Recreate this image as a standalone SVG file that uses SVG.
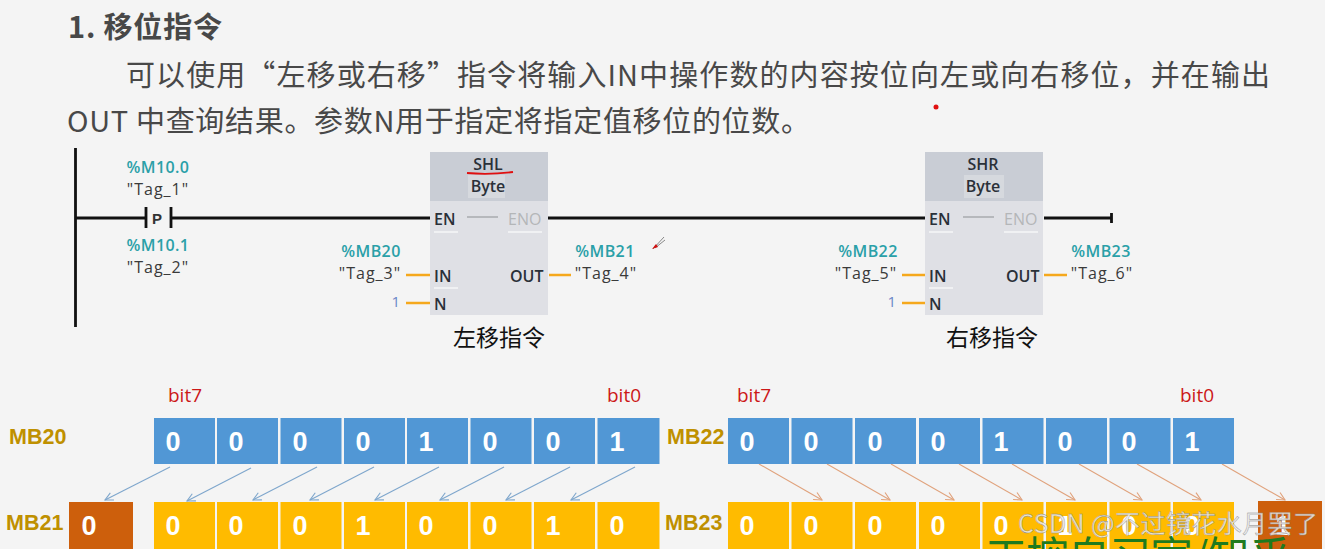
<svg xmlns="http://www.w3.org/2000/svg" width="1325" height="549" viewBox="0 0 1325 549">
<style>
text{font-family:"Liberation Sans","Noto Sans CJK SC",sans-serif}
.h{font-family:"Noto Sans CJK SC",sans-serif;font-size:29px;fill:#484848}
.ser{font-family:"Noto Sans CJK SC",serif;font-size:23px;fill:#111;text-anchor:middle}
.g{font-family:"Open Sans","Noto Sans",sans-serif;font-size:16px;letter-spacing:1px;fill:#3a3a3a;text-anchor:middle}
.t{font-family:"Open Sans","Noto Sans",sans-serif;font-size:16px;letter-spacing:.4px;font-weight:600;fill:#2aa0a8;text-anchor:middle}
.p{font-family:"Open Sans","Noto Sans",sans-serif;font-size:16px;font-weight:600;fill:#2a3038}
.d{font-family:"Open Sans","Noto Sans",sans-serif;font-size:16px;fill:#b4b6b8}
.hd{font-family:"Open Sans","Noto Sans",sans-serif;font-size:16px;font-weight:600;fill:#2a3038;text-anchor:middle}
.num{font-family:"Open Sans","Noto Sans",sans-serif;font-size:15px;fill:#6a86c8;text-anchor:end}
.w{stroke:#111;stroke-width:2.8;fill:none}
.o{stroke:#f5a81c;stroke-width:2.4;fill:none}
.u{stroke:#f6f6f8;stroke-width:1.3;fill:none}
.blk{fill:#dfe0e5}.top{fill:#c9cdd5}
.b{fill:#5197d5}.y{fill:#ffbb00}.r{fill:#cd5f0c}
.v{font-size:27px;font-weight:700;fill:#fff;text-anchor:middle}
.m{font-size:21.500px;font-weight:700;fill:#bf9000}
.bit{font-family:"Open Sans","Noto Sans",sans-serif;font-size:19px;fill:#cc1818}
.ab{stroke:#7ea6cc;stroke-width:1.100;fill:none;marker-end:url(#ba)}
.ar{stroke:#e0a27c;stroke-width:1.100;fill:none;marker-end:url(#ra)}
</style>
<defs>
<marker id="ba" markerWidth="12" markerHeight="12" refX="9" refY="5" orient="auto" markerUnits="userSpaceOnUse"><path d="M1 1L9 5L1 9" fill="none" stroke="#7ea6cc" stroke-width="1.100"/></marker>
<marker id="ra" markerWidth="12" markerHeight="12" refX="9" refY="5" orient="auto" markerUnits="userSpaceOnUse"><path d="M1 1L9 5L1 9" fill="none" stroke="#e0a27c" stroke-width="1.100"/></marker>
</defs>
<rect width="1325" height="549" fill="#f4f4f4"/>
<text class="h" x="68" y="38" font-weight="700" textLength="154">1. 移位指令</text>
<text class="h" x="126" y="86" textLength="1144">可以使用“左移或右移”指令将输入IN中操作数的内容按位向左或向右移位，并在输出</text>
<text class="h" x="67" y="132" textLength="743">OUT 中查询结果。参数N用于指定将指定值移位的位数。</text>
<circle cx="936" cy="107" r="2.500" fill="#e01010"/>
<g id="connectors">
<path class="w" d="M75.500 148V327M76 218H146M171 218H430M548 218H925M1044 218H1111"/>
<path class="w" d="M146 207V228M171 207V228M1111.500 213V223" stroke-width="2.400"/>
<path class="o" d="M406 275H430M406 303H430M549 275H571M902 275H925M902 303H925M1044 275H1067"/>
<path class="ab" d="M170 467L105 500"/><path class="ab" d="M251 468L187 501"/><path class="ab" d="M317 467L253 500"/><path class="ab" d="M374 467L310 500"/><path class="ab" d="M439 467L375 500"/><path class="ab" d="M504 467L440 500"/><path class="ab" d="M570 467L506 500"/><path class="ab" d="M635 467L571 500"/>
<path class="ar" d="M759 464L822 500"/><path class="ar" d="M827 464L890 500"/><path class="ar" d="M891 464L954 500"/><path class="ar" d="M959 464L1022 500"/><path class="ar" d="M1012 464L1075 500"/><path class="ar" d="M1079 464L1142 500"/><path class="ar" d="M1137 464L1201 500"/><path class="ar" d="M1222 464L1285 500"/>
</g>
<g id="contact">
<text x="157" y="224" font-family="Open Sans" font-size="15" font-weight="700" fill="#333" text-anchor="middle">P</text>
<text class="t" x="158" y="173">%M10.0</text><text class="g" x="158" y="195">"Tag_1"</text>
<text class="t" x="158" y="251">%M10.1</text><text class="g" x="158" y="273">"Tag_2"</text>
</g>
<g id="shl">
<rect class="blk" x="430" y="152" width="118" height="163"/><rect class="top" x="430" y="152" width="118" height="49"/>
<rect x="468" y="175" width="37" height="23" fill="#d6d9de"/>
<text class="hd" x="488" y="170">SHL</text>
<text class="hd" x="488" y="192">Byte</text>
<path d="M467 173Q489 175 513 172" stroke="#e01010" stroke-width="1.800" fill="none"/>
<text class="p" x="434" y="225">EN</text><text class="d" x="508" y="225">ENO</text><path d="M467 217H498" stroke="#a0a2a6" stroke-width="1.300"/>
<path class="u" d="M434 232H458M508 232H542M434 288H458"/>
<text class="p" x="434" y="282">IN</text><text class="p" x="434" y="310">N</text><text class="p" x="510" y="282">OUT</text>
<text class="t" x="371" y="257">%MB20</text><text class="g" x="370" y="279">"Tag_3"</text><text class="num" x="400" y="307">1</text>
<text class="t" x="605" y="257">%MB21</text><text class="g" x="606" y="279">"Tag_4"</text>
<path d="M653 249L664 237M655 248L665 240" stroke="#888" stroke-width="1" fill="none"/><path d="M652 249L656 244L658 247Z" fill="#d01010"/>
<text class="ser" x="499" y="346">左移指令</text>
</g>
<g id="shr">
<rect class="blk" x="925" y="152" width="118" height="163"/><rect class="top" x="925" y="152" width="118" height="49"/>
<rect x="964" y="175" width="40" height="23" fill="#d6d9de"/>
<text class="hd" x="983" y="170">SHR</text>
<text class="hd" x="983" y="192">Byte</text>
<text class="p" x="929" y="225">EN</text><text class="d" x="1004" y="225">ENO</text><path d="M963 217H994" stroke="#a0a2a6" stroke-width="1.300"/>
<path class="u" d="M929 232H953M1004 232H1038M929 288H953"/>
<text class="p" x="929" y="282">IN</text><text class="p" x="929" y="310">N</text><text class="p" x="1006" y="282">OUT</text>
<text class="t" x="868" y="257">%MB22</text><text class="g" x="866" y="279">"Tag_5"</text><text class="num" x="896" y="307">1</text>
<text class="t" x="1101" y="257">%MB23</text><text class="g" x="1102" y="279">"Tag_6"</text>
<text class="ser" x="992" y="346">右移指令</text>
</g>
<g id="mb20">
<text class="m" x="9" y="444">MB20</text>
<text class="bit" x="168" y="402">bit7</text><text class="bit" x="607" y="402">bit0</text>
<g class="b"><rect x="154" y="418" width="61" height="46"/><rect x="217" y="418" width="61" height="46"/><rect x="280.500" y="418" width="61" height="46"/><rect x="344" y="418" width="61" height="46"/><rect x="407" y="418" width="61" height="46"/><rect x="470.500" y="418" width="61" height="46"/><rect x="534" y="418" width="61" height="46"/><rect x="597.500" y="418" width="62" height="46"/></g>
<g class="v"><text x="173" y="451">0</text><text x="236" y="451">0</text><text x="300" y="451">0</text><text x="363" y="451">0</text><text x="426" y="451">1</text><text x="490" y="451">0</text><text x="553" y="451">0</text><text x="617" y="451">1</text></g>
</g>
<g id="mb21">
<text class="m" x="6" y="530">MB21</text>
<rect class="r" x="69" y="502" width="64" height="47"/><text class="v" x="89" y="535">0</text>
<g class="y"><rect x="154" y="502" width="61" height="47"/><rect x="217" y="502" width="61" height="47"/><rect x="280.500" y="502" width="61" height="47"/><rect x="344" y="502" width="61" height="47"/><rect x="407" y="502" width="61" height="47"/><rect x="470.500" y="502" width="61" height="47"/><rect x="534" y="502" width="61" height="47"/><rect x="597.500" y="502" width="62" height="47"/></g>
<g class="v"><text x="173" y="535">0</text><text x="236" y="535">0</text><text x="300" y="535">0</text><text x="363" y="535">1</text><text x="426" y="535">0</text><text x="490" y="535">0</text><text x="553" y="535">1</text><text x="617" y="535">0</text></g>
</g>
<g id="mb22">
<text class="m" x="667" y="444">MB22</text>
<text class="bit" x="737" y="402">bit7</text><text class="bit" x="1180" y="402">bit0</text>
<g class="b"><rect x="728" y="418" width="61" height="46"/><rect x="791.500" y="418" width="61" height="46"/><rect x="855" y="418" width="61" height="46"/><rect x="919" y="418" width="61" height="46"/><rect x="982.500" y="418" width="61" height="46"/><rect x="1046" y="418" width="61" height="46"/><rect x="1109.500" y="418" width="61" height="46"/><rect x="1173" y="418" width="61" height="46"/></g>
<g class="v"><text x="747" y="451">0</text><text x="811" y="451">0</text><text x="875" y="451">0</text><text x="938" y="451">0</text><text x="1001" y="451">1</text><text x="1065" y="451">0</text><text x="1129" y="451">0</text><text x="1192" y="451">1</text></g>
</g>
<g id="mb23">
<text class="m" x="665" y="530">MB23</text>
<g class="y"><rect x="728" y="502" width="61" height="47"/><rect x="791.500" y="502" width="61" height="47"/><rect x="855" y="502" width="61" height="47"/><rect x="919" y="502" width="61" height="47"/><rect x="982.500" y="502" width="61" height="47"/><rect x="1046" y="502" width="61" height="47"/><rect x="1109.500" y="502" width="61" height="47"/><rect x="1173" y="502" width="61" height="47"/></g>
<rect class="r" x="1258" y="501" width="64" height="48"/>
<g class="v"><text x="747" y="535">0</text><text x="811" y="535">0</text><text x="875" y="535">0</text><text x="938" y="535">0</text><text x="1001" y="535">0</text><text x="1065" y="535">1</text><text x="1129" y="535">0</text><text x="1192" y="535">0</text><text x="1283" y="535">1</text></g>
</g>
<text x="985" y="572" font-size="42" fill="#1f7a1f" textLength="306" style="font-family:'Noto Sans CJK SC',serif">工控自习室/知乎</text>
<text x="1018" y="533" font-size="25" fill="#ececec" fill-opacity=".85" stroke="#8a8a8a" stroke-width=".4" textLength="300" style="font-family:'Noto Sans CJK SC','Liberation Sans',sans-serif">CSDN @不过镜花水月罢了</text>
</svg>
